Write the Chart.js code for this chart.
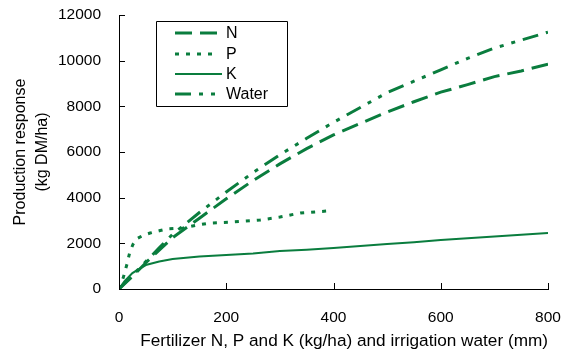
<!DOCTYPE html>
<html><head><meta charset="utf-8">
<script src="https://cdn.jsdelivr.net/npm/chart.js@4"></script>
<style>html,body{margin:0;padding:0;background:#fff}</style>
</head><body>
<canvas id="c" width="569" height="356"></canvas>
<script>
// Data
const xN = [0, 25, 50, 75, 100, 150, 200, 250, 300, 350, 400, 450, 500, 550, 600, 650, 700, 750, 800];
const yN = [0, 550, 1150, 1700, 2250, 3100, 3950, 4750, 5480, 6150, 6750, 7250, 7750, 8200, 8620, 8950, 9300, 9550, 9850];
const xP = [0, 8, 15, 20, 26, 33, 45, 58, 75, 89, 120, 145, 170, 213, 263, 300, 338, 388];
const yP = [0, 500, 1100, 1600, 1950, 2200, 2350, 2450, 2550, 2630, 2670, 2800, 2890, 2935, 3020, 3150, 3330, 3415];
const xK = [0, 10, 25, 50, 75, 100, 150, 200, 250, 300, 350, 400, 450, 500, 550, 600, 650, 700, 750, 800];
const yK = [0, 330, 700, 1050, 1200, 1310, 1420, 1490, 1560, 1660, 1720, 1800, 1880, 1970, 2050, 2150, 2220, 2300, 2380, 2450];
const xW = [0, 25, 50, 75, 100, 150, 200, 250, 300, 350, 400, 450, 500, 550, 600, 650, 700, 750, 800];
const yW = [0, 600, 1200, 1800, 2400, 3350, 4250, 5100, 5880, 6600, 7300, 7950, 8600, 9100, 9600, 10100, 10550, 10900, 11250];
const seriesNames = ['N', 'P', 'K', 'Water'];
const yTicks = [0, 2000, 4000, 6000, 8000, 10000, 12000];
const xTicks = [0, 200, 400, 600, 800];

const GREEN = '#0a7d3e';
const FONT = 'Liberation Sans, Arial, sans-serif';
const pts = (xs, ys) => xs.map((x, i) => ({x, y: ys[i]}));

const ds = (label, data, dash, width) => ({
  label, data, borderColor: GREEN, backgroundColor: GREEN, borderWidth: width,
  borderDash: dash, borderCapStyle: 'butt', pointRadius: 0, tension: 0, fill: false
});

const inwardTicks = {
  id: 'inwardTicks',
  afterDraw(chart) {
    const {ctx, chartArea: a, scales: {x, y}} = chart;
    ctx.save();
    ctx.strokeStyle = '#000';
    ctx.lineWidth = 1;
    ctx.beginPath();
    yTicks.forEach(v => { const py = Math.round(y.getPixelForValue(v)) + 0.5; ctx.moveTo(a.left, py); ctx.lineTo(a.left + 6, py); });
    xTicks.forEach(v => { const px = Math.round(x.getPixelForValue(v)) + 0.5; ctx.moveTo(px, a.bottom); ctx.lineTo(px, a.bottom - 6); });
    ctx.stroke();
    // legend box
    ctx.beginPath();
    ctx.rect(156.5, 21.5, 131, 85);
    ctx.stroke();
    const rows = [33, 54, 74, 94];
    chart.data.datasets.forEach((d, i) => {
      ctx.save();
      ctx.strokeStyle = d.borderColor;
      ctx.lineWidth = d.borderWidth;
      ctx.lineCap = 'butt';
      ctx.setLineDash(d.borderDash || []);
      ctx.beginPath();
      ctx.moveTo(175, rows[i]);
      ctx.lineTo(i === 1 ? 213 : (i === 2 ? 222 : 218), rows[i]);
      ctx.stroke();
      ctx.restore();
      ctx.fillStyle = '#000';
      ctx.font = '16px ' + FONT;
      ctx.textBaseline = 'middle';
      ctx.textAlign = 'left';
      ctx.fillText(seriesNames[i], 226, rows[i] + 1);
    });
    ctx.restore();
  }
};

new Chart(document.getElementById('c'), {
  type: 'line',
  data: {
    datasets: [
      ds(seriesNames[0], pts(xN, yN), [17, 8], 3),
      ds(seriesNames[1], pts(xP, yP), [4, 7], 3),
      ds(seriesNames[2], pts(xK, yK), [], 2),
      ds(seriesNames[3], pts(xW, yW), [16, 8, 4, 8, 4, 8], 3)
    ]
  },
  options: {
    responsive: false,
    animation: false,
    devicePixelRatio: 1,
    layout: {padding: {top: 15, right: 21, left: 0, bottom: 0}},
    plugins: {legend: {display: false}, tooltip: {enabled: false}},
    scales: {
      x: {
        type: 'linear', min: 0, max: 800,
        afterFit(s) { s.height = 67; s.paddingLeft = 0; s.paddingRight = 0; },
        afterBuildTicks(s) { s.ticks = xTicks.map(v => ({value: v})); },
        grid: {display: false, drawTicks: false},
        border: {display: true, color: '#000', width: 1},
        ticks: {color: '#000', padding: 19, font: {family: FONT, size: 15.5}, callback: v => String(v)},
        title: {display: true, text: 'Fertilizer N, P and K (kg/ha) and irrigation water (mm)', color: '#000',
          align: 'end', font: {family: FONT, size: 17.2, lineHeight: 1.2}, padding: {top: 0, bottom: 4}}
      },
      y: {
        type: 'linear', min: 0, max: 12000,
        afterFit(s) { s.width = 119; s.paddingTop = 0; s.paddingBottom = 0; },
        afterBuildTicks(s) { s.ticks = yTicks.map(v => ({value: v})); },
        grid: {display: false, drawTicks: false},
        border: {display: true, color: '#000', width: 1},
        ticks: {color: '#000', padding: 18, font: {family: FONT, size: 15.5}, callback: v => String(v)},
        title: {display: true, text: ['Production response', '(kg DM/ha)'], color: '#000',
          font: {family: FONT, size: 16, lineHeight: 1.35}, padding: {top: 10, bottom: 0}}
      }
    }
  },
  plugins: [inwardTicks]
});
</script>
</body></html>
